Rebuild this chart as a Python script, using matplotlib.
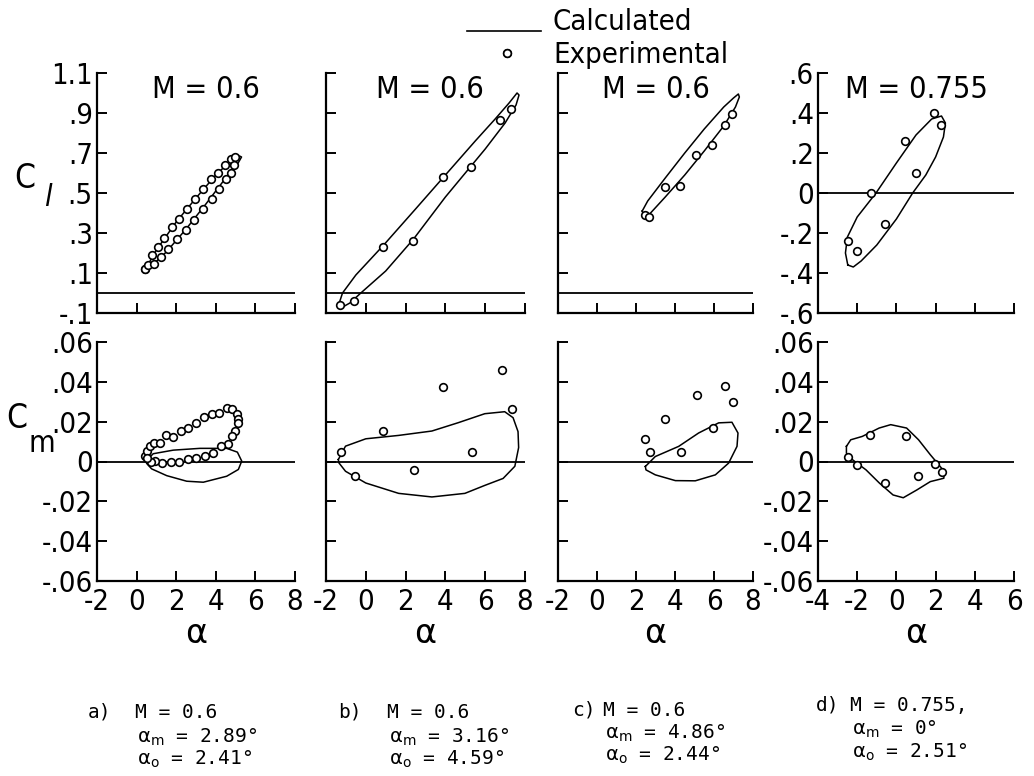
import matplotlib
matplotlib.use("Agg")
import matplotlib.pyplot as plt
from matplotlib.lines import Line2D

# ---------------- data ----------------
# Panel a: M = 0.6, alpha_m = 2.89, alpha_o = 2.41
a_cl_exp_alpha = [0.40, 0.42, 0.59, 0.76, 1.10, 1.40, 1.79, 2.16, 2.56, 2.95, 3.34, 3.74, 4.09, 4.46, 4.75, 4.97,
                  4.92, 4.75, 4.52, 4.16, 3.79, 3.37, 2.90, 2.49, 2.06, 1.60, 1.22, 0.88]
a_cl_exp = [0.12, 0.12, 0.14, 0.19, 0.23, 0.277, 0.33, 0.37, 0.42, 0.47, 0.52, 0.57, 0.60, 0.64, 0.67, 0.68,
            0.64, 0.60, 0.57, 0.52, 0.47, 0.42, 0.365, 0.315, 0.27, 0.22, 0.18, 0.145]
a_cl_calc_alpha = [0.45, 1.0, 2.0, 3.0, 4.0, 4.8, 5.2, 5.3, 5.1, 4.5, 3.5, 2.5, 1.5, 0.8, 0.45]
a_cl_calc = [0.12, 0.215, 0.355, 0.475, 0.59, 0.665, 0.685, 0.68, 0.645, 0.575, 0.445, 0.32, 0.205, 0.14, 0.12]

a_cm_exp_alpha = [0.42, 0.51, 0.68, 0.90, 1.18, 1.47, 1.85, 2.24, 2.61, 3.00, 3.40, 3.79, 4.18, 4.55, 4.83, 5.06,
                  5.11, 5.11, 4.97, 4.83, 4.60, 4.26, 3.87, 3.45, 3.00, 2.61, 2.14, 1.72, 1.30, 0.94, 0.71, 0.51]
a_cm_exp = [0.0027, 0.0052, 0.0077, 0.0091, 0.0094, 0.0131, 0.0125, 0.0153, 0.0170, 0.0195, 0.0224, 0.0240,
            0.0242, 0.0269, 0.0262, 0.0240, 0.0215, 0.0195, 0.0153, 0.0128, 0.0089, 0.0077, 0.0044, 0.0027,
            0.0019, 0.0014, -0.0003, -0.0003, -0.0007, 0.0002, -0.0003, 0.0019]
a_cm_calc_alpha = [0.46, 0.84, 1.85, 3.20, 4.55, 5.09, 5.31, 5.14, 4.55, 3.37, 2.53, 1.52, 0.76, 0.51, 0.46]
a_cm_calc = [0.0002, 0.0039, 0.0057, 0.0066, 0.0066, 0.0047, 0.0002, -0.0040, -0.0074, -0.0104, -0.0099,
             -0.0071, -0.0037, -0.0010, 0.0002]

# Panel b: M = 0.6, alpha_m = 3.16, alpha_o = 4.59
b_cl_exp_alpha = [-1.28, -0.58, 0.87, 2.37, 3.88, 5.28, 6.75, 7.30, 7.08]
b_cl_exp = [-0.06, -0.04, 0.23, 0.26, 0.58, 0.63, 0.865, 0.92, 1.20]
b_cl_calc_alpha = [-1.40, -1.17, -0.50, 0.90, 2.50, 4.00, 5.50, 6.50, 7.20, 7.60, 7.70, 7.55, 7.00, 6.00,
                   5.00, 4.00, 2.40, 1.00, -0.25, -0.80, -1.25, -1.40]
b_cl_calc = [-0.07, 0.0, 0.09, 0.24, 0.42, 0.59, 0.76, 0.87, 0.95, 1.00, 0.99, 0.94, 0.85, 0.72,
             0.60, 0.48, 0.27, 0.11, 0.0, -0.05, -0.075, -0.07]

b_cm_exp_alpha = [-1.24, -0.52, 0.87, 2.42, 3.90, 5.35, 6.82, 7.35]
b_cm_exp = [0.0047, -0.0071, 0.0153, -0.0044, 0.0375, 0.0047, 0.0460, 0.0262]
b_cm_calc_alpha = [-1.38, -1.02, 0.0, 1.65, 3.32, 4.65, 5.98, 6.98, 7.40, 7.65, 7.68, 7.49, 6.90, 5.98, 4.98,
                   3.32, 1.65, 0.0, -1.02, -1.35, -1.38]
b_cm_calc = [0.001, 0.0077, 0.0114, 0.0131, 0.0153, 0.0195, 0.0240, 0.0250, 0.0220, 0.0150, 0.0070, -0.0024,
             -0.0085, -0.0120, -0.0160, -0.0178, -0.0160, -0.0108, -0.0049, -0.0007, 0.001]

# Panel c: M = 0.6, alpha_m = 4.86, alpha_o = 2.44
c_cl_exp_alpha = [2.44, 2.69, 3.47, 4.28, 5.09, 5.91, 6.55, 6.94]
c_cl_exp = [0.39, 0.38, 0.53, 0.535, 0.69, 0.74, 0.84, 0.895]
c_cl_calc_alpha = [2.32, 2.60, 3.50, 4.50, 5.50, 6.50, 7.00, 7.25, 7.30, 7.10, 6.50, 5.50, 4.50, 3.50,
                   2.70, 2.40, 2.32]
c_cl_calc = [0.41, 0.46, 0.575, 0.70, 0.82, 0.93, 0.975, 0.995, 0.98, 0.93, 0.835, 0.71, 0.59, 0.48,
             0.395, 0.385, 0.41]

c_cm_exp_alpha = [2.45, 2.70, 3.51, 4.29, 5.11, 5.95, 6.56, 6.97]
c_cm_exp = [0.0113, 0.0050, 0.0215, 0.0047, 0.0333, 0.0168, 0.0378, 0.0298]
c_cm_calc_alpha = [2.48, 2.99, 4.19, 5.21, 6.24, 6.92, 7.23, 7.18, 6.75, 6.07, 5.04, 4.02, 2.99, 2.51, 2.48]
c_cm_calc = [-0.0025, 0.0025, 0.0076, 0.0143, 0.0194, 0.0197, 0.0143, 0.0076, -0.0008, -0.0067, -0.0097,
             -0.0096, -0.0067, -0.0042, -0.0025]

# Panel d: M = 0.755, alpha_m = 0, alpha_o = 2.51
d_cl_exp_alpha = [-2.45, -2.03, -1.30, -0.58, 0.44, 1.00, 1.90, 2.28]
d_cl_exp = [-0.24, -0.29, 0.0, -0.155, 0.26, 0.10, 0.40, 0.34]
d_cl_calc_alpha = [-2.48, -2.60, -2.50, -2.00, -1.04, 0.0, 1.0, 1.8, 2.3, 2.5, 2.4, 2.0, 1.5, 0.83,
                   0.0, -1.0, -1.8, -2.2, -2.48]
d_cl_calc = [-0.36, -0.30, -0.22, -0.12, 0.0, 0.15, 0.29, 0.37, 0.385, 0.35, 0.28, 0.18, 0.09, 0.0,
             -0.13, -0.26, -0.34, -0.37, -0.36]

d_cm_exp_alpha = [-2.45, -2.03, -1.33, -0.58, 0.49, 1.08, 1.99, 2.34]
d_cm_exp = [0.0022, -0.0020, 0.0135, -0.0106, 0.0126, -0.0072, -0.0012, -0.0055]
d_cm_calc_alpha = [-2.55, -2.33, -1.74, -1.39, -0.88, -0.29, 0.52, 1.13, 1.73, 2.09, 2.44, 2.42, 1.73,
                   1.04, 0.35, -0.17, -0.86, -1.55, -2.24, -2.55, -2.55]
d_cm_calc = [0.0076, 0.0109, 0.0126, 0.0143, 0.0168, 0.0185, 0.0168, 0.0109, 0.0034, -0.0008, -0.0050,
             -0.0084, -0.0101, -0.0143, -0.0182, -0.0168, -0.0109, -0.0042, 0.0009, 0.0042, 0.0076]

titles = ["M = 0.6", "M = 0.6", "M = 0.6", "M = 0.755"]
captions = [
    ("a)", "M = 0.6", r"$\mathrm{\alpha}_{\mathrm{m}}$ = 2.89°", r"$\mathrm{\alpha}_{\mathrm{o}}$ = 2.41°"),
    ("b)", "M = 0.6", r"$\mathrm{\alpha}_{\mathrm{m}}$ = 3.16°", r"$\mathrm{\alpha}_{\mathrm{o}}$ = 4.59°"),
    ("c)", "M = 0.6", r"$\mathrm{\alpha}_{\mathrm{m}}$ = 4.86°", r"$\mathrm{\alpha}_{\mathrm{o}}$ = 2.44°"),
    ("d)", "M = 0.755,", r"$\mathrm{\alpha}_{\mathrm{m}}$ = 0°", r"$\mathrm{\alpha}_{\mathrm{o}}$ = 2.51°"),
]
cl_ticks_abc = [-0.1, 0.1, 0.3, 0.5, 0.7, 0.9, 1.1]
cl_ticks_d = [-0.6, -0.4, -0.2, 0.0, 0.2, 0.4, 0.6]
cm_ticks = [-0.06, -0.04, -0.02, 0.0, 0.02, 0.04, 0.06]
x_ticks_abc = [-2, 0, 2, 4, 6, 8]
x_ticks_d = [-4, -2, 0, 2, 4, 6]

# ---------------- figure ----------------
plt.rcParams["mathtext.fontset"] = "dejavusans"
W, H = 1034, 776
fig = plt.figure(figsize=(W / 100, H / 100), dpi=100)

TFONT = dict(family="DejaVu Sans", stretch="condensed")


def box(x0, x1, y0, y1):
    return [x0 / W, 1 - y1 / H, (x1 - x0) / W, (y1 - y0) / H]


def fmt(v, nd):
    if abs(v) < 1e-12:
        return "0"
    s = f"{v:.{nd}f}"
    if s.startswith("0."):
        s = s[1:]
    elif s.startswith("-0."):
        s = "-" + s[2:]
    return s


def style(ax):
    for s in ["top", "right"]:
        ax.spines[s].set_visible(False)
    for s in ["left", "bottom"]:
        ax.spines[s].set_linewidth(1.6)
    ax.tick_params(direction="in", length=7, width=1.4, labelsize=21, pad=3)


cols_px = [(97, 295), (326, 525), (558, 753), (818, 1014)]
top_y = (73, 313)
bot_y = (342, 581)
title_x = [0.55, 0.52, 0.50, 0.50]

panels = [
    (a_cl_calc_alpha, a_cl_calc, a_cl_exp_alpha, a_cl_exp, a_cm_calc_alpha, a_cm_calc, a_cm_exp_alpha, a_cm_exp),
    (b_cl_calc_alpha, b_cl_calc, b_cl_exp_alpha, b_cl_exp, b_cm_calc_alpha, b_cm_calc, b_cm_exp_alpha, b_cm_exp),
    (c_cl_calc_alpha, c_cl_calc, c_cl_exp_alpha, c_cl_exp, c_cm_calc_alpha, c_cm_calc, c_cm_exp_alpha, c_cm_exp),
    (d_cl_calc_alpha, d_cl_calc, d_cl_exp_alpha, d_cl_exp, d_cm_calc_alpha, d_cm_calc, d_cm_exp_alpha, d_cm_exp),
]

MK = dict(linestyle="none", marker="o", ms=5.5, mfc="white", mec="black", mew=1.2, zorder=3, clip_on=False)

for i, (x0, x1) in enumerate(cols_px):
    cla, cl, ea, el, cma, cm, ema, em = panels[i]
    xt = x_ticks_d if i == 3 else x_ticks_abc
    # --- top (lift) ---
    ax = fig.add_axes(box(x0, x1, *top_y))
    style(ax)
    ax.axhline(0, color="black", lw=1.3, zorder=1)
    ax.plot(cla, cl, color="black", lw=1.1, zorder=2)
    ax.plot(ea, el, **MK)
    ax.set_xlim(xt[0], xt[-1])
    ax.set_xticks(xt)
    ax.set_xticklabels([])
    if i == 3:
        ax.set_ylim(-0.6, 0.6)
        ax.set_yticks(cl_ticks_d)
        ax.set_yticklabels([fmt(v, 1) for v in cl_ticks_d], **TFONT)
    else:
        ax.set_ylim(-0.1, 1.1)
        ax.set_yticks(cl_ticks_abc)
        if i == 0:
            ax.set_yticklabels([fmt(v, 1) for v in cl_ticks_abc], **TFONT)
        else:
            ax.set_yticklabels([])
    ax.text(title_x[i], 0.93, titles[i], transform=ax.transAxes, ha="center", va="center",
            fontsize=22, **TFONT)

    # --- bottom (moment) ---
    ax = fig.add_axes(box(x0, x1, *bot_y))
    style(ax)
    ax.axhline(0, color="black", lw=1.3, zorder=1)
    ax.plot(cma, cm, color="black", lw=1.1, zorder=2)
    ax.plot(ema, em, **MK)
    ax.set_xlim(xt[0], xt[-1])
    ax.set_xticks(xt)
    ax.set_xticklabels([str(v) for v in xt], **TFONT)
    ax.tick_params(axis="x", pad=5)
    ax.set_ylim(-0.06, 0.06)
    ax.set_yticks(cm_ticks)
    if i in (0, 3):
        ax.set_yticklabels([fmt(v, 2) for v in cm_ticks], **TFONT)
    else:
        ax.set_yticklabels([])
    ax.set_xlabel("α", fontsize=24, labelpad=1)

# y labels
fig.text(25 / W, 1 - 178 / H, "C", fontsize=24, ha="center", va="center", **TFONT)
fig.text(48 / W, 1 - 198 / H, "l", fontsize=22, ha="center", va="center", style="italic", **TFONT)
fig.text(17 / W, 1 - 419 / H, "C", fontsize=24, ha="center", va="center", **TFONT)
fig.text(42 / W, 1 - 444 / H, "m", fontsize=22, ha="center", va="center", **TFONT)

# legend
fig.add_artist(Line2D([467 / W, 541 / W], [1 - 31 / H, 1 - 31 / H], color="black", lw=1.2))
fig.add_artist(Line2D([507 / W], [1 - 53 / H], marker="o", ms=5.5, mfc="white", mec="black", mew=1.2,
                      linestyle="none"))
fig.text(553 / W, 1 - 22 / H, "Calculated", fontsize=21, ha="left", va="center", **TFONT)
fig.text(553 / W, 1 - 55 / H, "Experimental", fontsize=21, ha="left", va="center", **TFONT)

# captions
CAP = dict(fontsize=14, family="DejaVu Sans Mono", ha="left", va="center")
cap_pos = [(88, 135, [712, 737, 759]), (338, 387, [712, 737, 759]),
           (572, 603, [710, 733, 755]), (816, 850, [705, 729, 752])]
for (lab, l1, l2, l3), (xl, xm, ys) in zip(captions, cap_pos):
    fig.text(xl / W, 1 - ys[0] / H, lab, **CAP)
    fig.text(xm / W, 1 - ys[0] / H, l1, **CAP)
    fig.text((xm + 2) / W, 1 - ys[1] / H, l2, **CAP)
    fig.text((xm + 2) / W, 1 - ys[2] / H, l3, **CAP)

fig.savefig("out.png", dpi=100)
